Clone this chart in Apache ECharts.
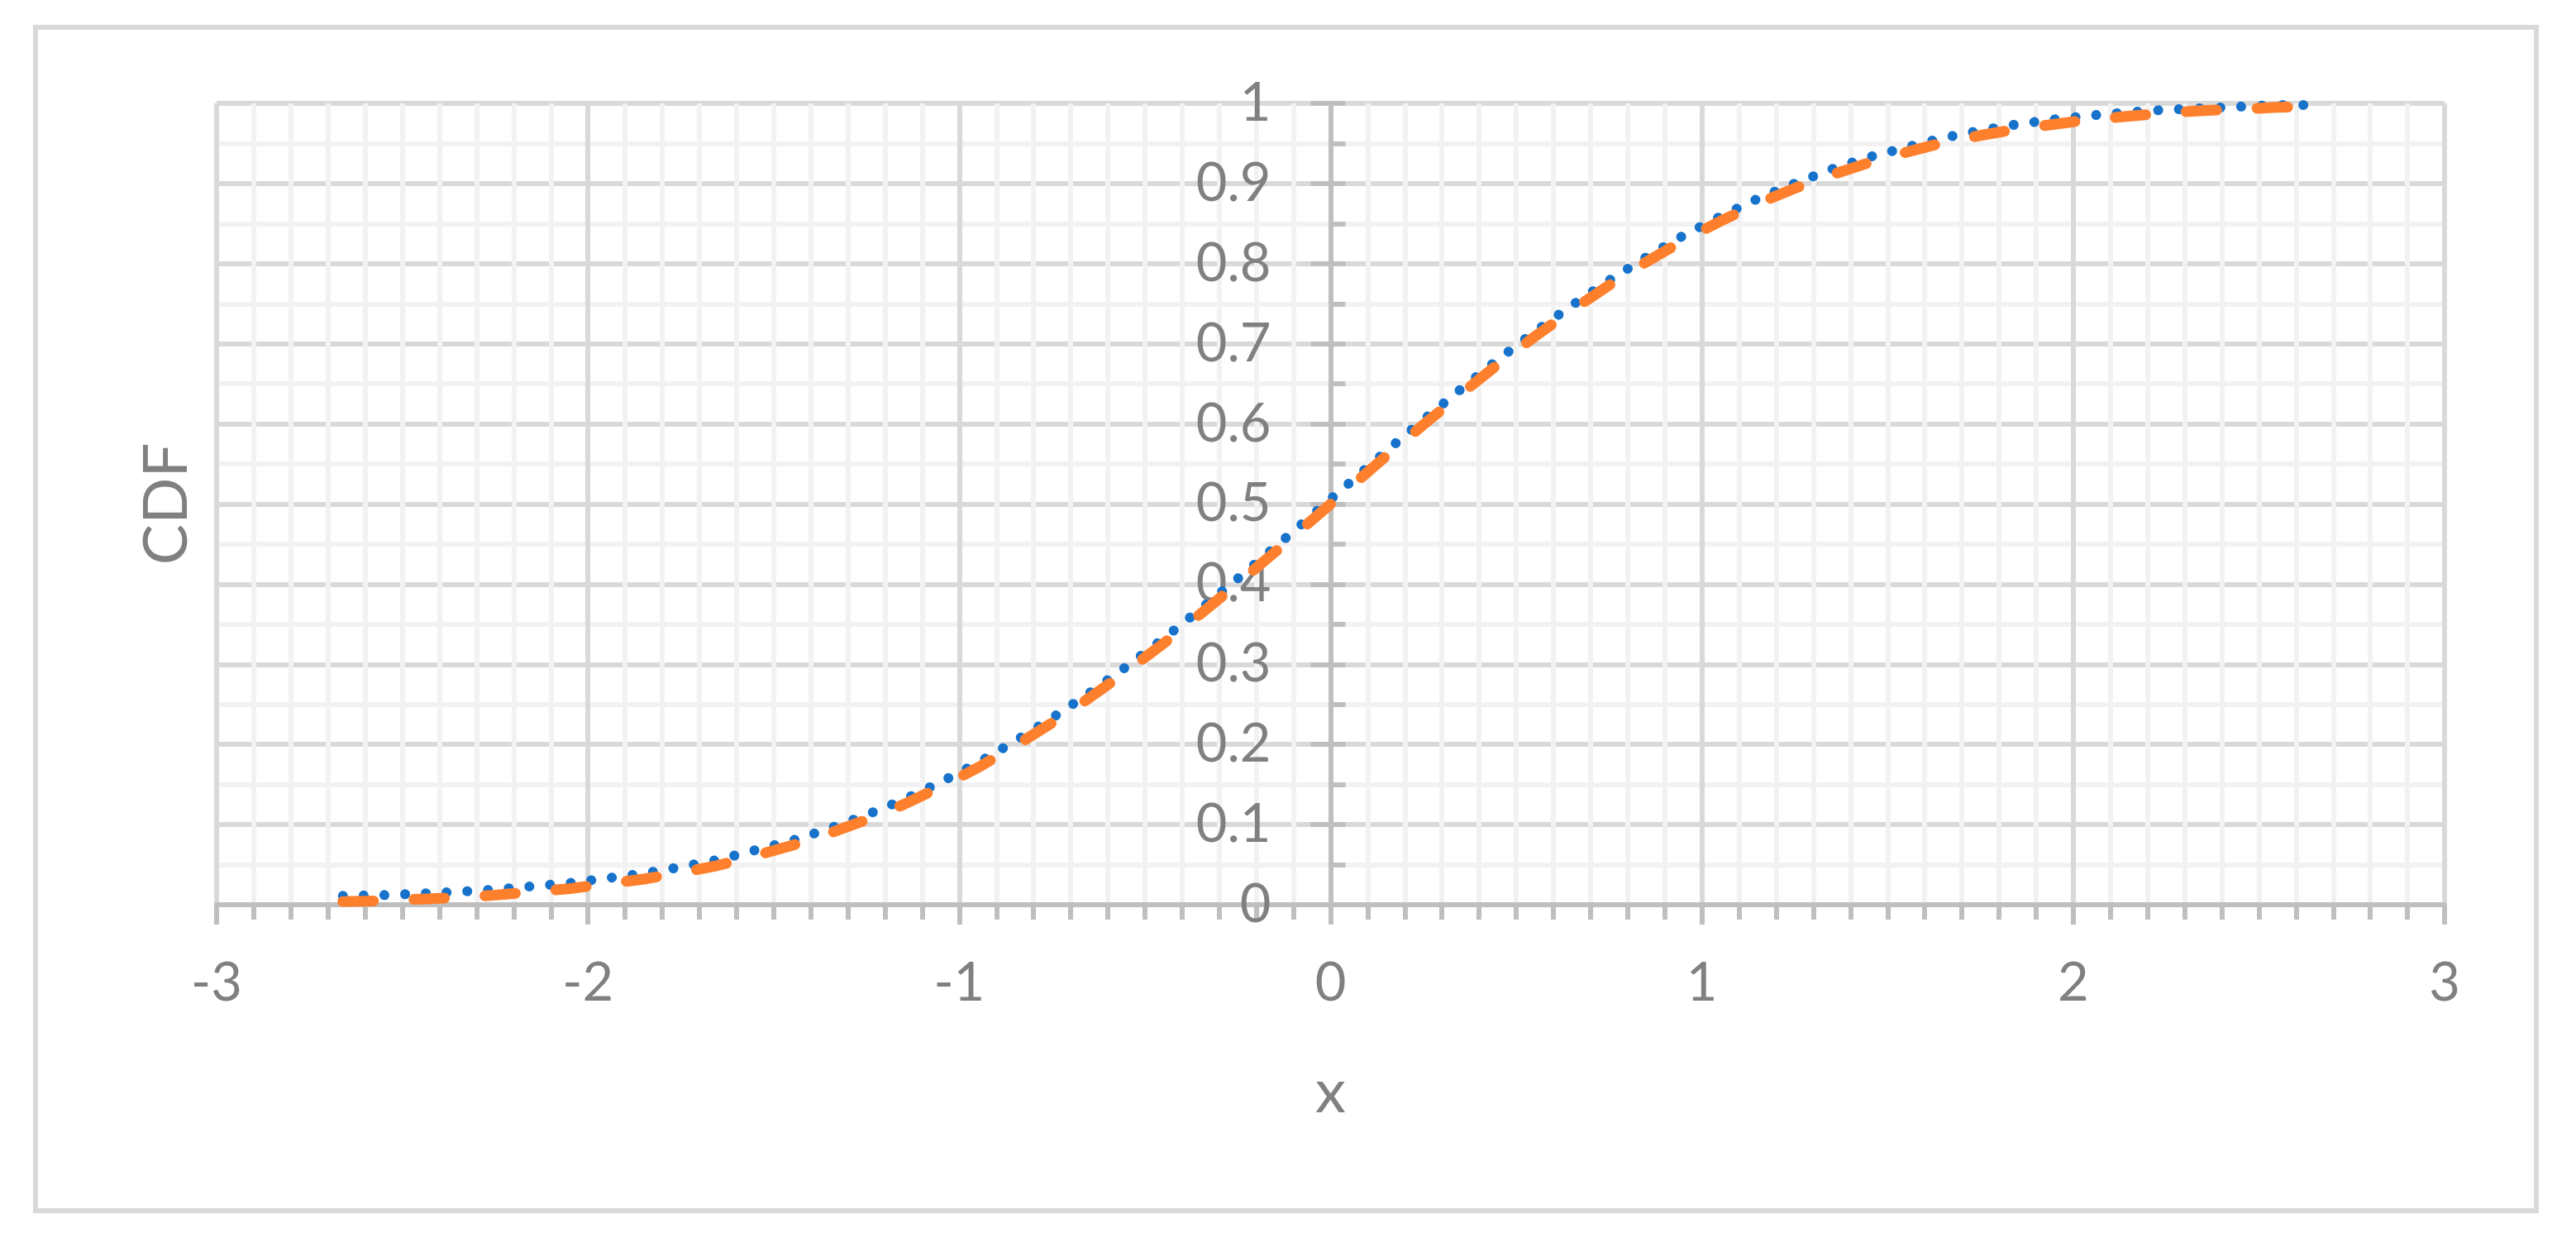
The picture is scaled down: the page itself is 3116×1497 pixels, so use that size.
<!DOCTYPE html>
<html>
<head>
<meta charset="utf-8">
<title>CDF</title>
<script src="https://cdn.jsdelivr.net/npm/echarts@6/dist/echarts.min.js"></script>
<style>
  html, body { margin: 0; padding: 0; background: #fff; }
  #main { width: 3116px; height: 1497px; }
</style>
</head>
<body>
<div id="main"></div>
<script>
// x positions of the plotted points
var xValues = [-2.66, -2.55, -2.45, -2.35, -2.25, -2.15, -2.05, -1.95, -1.85, -1.75,
  -1.65, -1.55, -1.45, -1.35, -1.25, -1.15, -1.05, -0.95, -0.85, -0.75,
  -0.65, -0.55, -0.45, -0.35, -0.25, -0.15, -0.05,
  0.05, 0.15, 0.25, 0.35, 0.45, 0.55, 0.65, 0.75, 0.85, 0.95,
  1.05, 1.15, 1.25, 1.35, 1.45, 1.55, 1.65, 1.75, 1.85, 1.95,
  2.05, 2.15, 2.25, 2.35, 2.45, 2.55, 2.66];

// blue dotted curve (sits a hair above the orange one)
var blueValues = [0.011, 0.012, 0.014, 0.016, 0.019, 0.023, 0.027, 0.033, 0.039, 0.047,
  0.056, 0.068, 0.080, 0.095, 0.112, 0.131, 0.153, 0.177, 0.204, 0.233,
  0.264, 0.297, 0.332, 0.369, 0.407, 0.446, 0.486,
  0.526, 0.566, 0.605, 0.643, 0.680, 0.715, 0.748, 0.779, 0.808, 0.835,
  0.859, 0.881, 0.900, 0.918, 0.933, 0.945, 0.957, 0.966, 0.974, 0.980,
  0.985, 0.989, 0.992, 0.994, 0.996, 0.998, 0.998];

// orange dashed curve
var orangeValues = [0.004, 0.005, 0.007, 0.009, 0.012, 0.016, 0.020, 0.026, 0.032, 0.040,
  0.049, 0.061, 0.074, 0.089, 0.106, 0.125, 0.147, 0.171, 0.198, 0.227,
  0.258, 0.291, 0.326, 0.363, 0.401, 0.440, 0.480,
  0.520, 0.560, 0.599, 0.637, 0.674, 0.709, 0.742, 0.773, 0.802, 0.829,
  0.853, 0.875, 0.894, 0.911, 0.926, 0.939, 0.951, 0.960, 0.968, 0.974,
  0.980, 0.984, 0.988, 0.991, 0.993, 0.995, 0.996];

var xTitle = 'x';
var yTitle = 'CDF';

function pairs(ys) {
  return xValues.map(function (x, i) { return [x, ys[i]]; });
}

var textColor = '#808080';
var fontFamily = 'Lato, "Open Sans", sans-serif';
var axisColor = '#bfbfbf';
var majorGrid = '#d9d9d9';
var minorGrid = '#f2f2f2';

var gridLeft = 262, gridRight = 159;
// the y axis sits on x = 0, i.e. half the plot width in from the left edge
var yShift = -(3116 - gridLeft - gridRight) / 2;

var chart = echarts.init(document.getElementById('main'), null, { renderer: 'canvas' });

var option = {
  backgroundColor: '#fff',
  animation: false,
  graphic: [{
    type: 'rect',
    shape: { x: 43, y: 33, width: 3025, height: 1431 },
    style: { fill: 'none', stroke: majorGrid, lineWidth: 6 },
    silent: true
  }],
  grid: { left: gridLeft, right: gridRight, top: 125, bottom: 403, containLabel: false, outerBoundsMode: 'none' },
  xAxis: {
    type: 'value',
    min: -3,
    max: 3,
    interval: 1,
    name: xTitle,
    nameLocation: 'middle',
    nameGap: 190,
    nameTextStyle: { color: textColor, fontSize: 74, fontFamily: fontFamily },
    axisLine: { onZero: false, lineStyle: { color: axisColor, width: 6 } },
    axisTick: { show: true, inside: false, length: 24, lineStyle: { color: axisColor, width: 6 } },
    minorTick: { show: true, splitNumber: 10, length: 18, lineStyle: { color: axisColor, width: 6 } },
    axisLabel: {
      color: textColor, fontSize: 65, fontFamily: fontFamily, margin: 63, lineHeight: 65,
      showMinLabel: true, showMaxLabel: true
    },
    splitLine: { show: true, lineStyle: { color: majorGrid, width: 6 } },
    minorSplitLine: { show: true, lineStyle: { color: minorGrid, width: 6 } }
  },
  yAxis: [{
    type: 'value',
    min: 0,
    max: 1,
    interval: 0.1,
    position: 'left',
    offset: yShift,
    name: yTitle,
    nameLocation: 'middle',
    nameGap: 1370,
    nameTextStyle: { color: textColor, fontSize: 74, fontFamily: fontFamily },
    axisLine: { show: true, onZero: false, lineStyle: { color: axisColor, width: 6 } },
    axisTick: { show: true, inside: true, length: 18, lineStyle: { color: axisColor, width: 6 } },
    minorTick: { show: true, splitNumber: 2, length: 18, lineStyle: { color: axisColor, width: 6 } },
    axisLabel: { color: textColor, fontSize: 65, fontFamily: fontFamily, margin: 72 },
    splitLine: { show: true, lineStyle: { color: majorGrid, width: 6 } },
    minorSplitLine: { show: true, lineStyle: { color: minorGrid, width: 6 } }
  }, {
    // second copy only for the outward half of the crossing major ticks
    type: 'value',
    min: 0,
    max: 1,
    interval: 0.1,
    position: 'left',
    offset: yShift,
    axisLine: { show: true, onZero: false, lineStyle: { color: axisColor, width: 6 } },
    axisTick: { show: true, inside: false, length: 24, lineStyle: { color: axisColor, width: 6 } },
    axisLabel: { show: false },
    splitLine: { show: false }
  }],
  series: [{
    name: 'blue',
    type: 'line',
    data: pairs(blueValues),
    showSymbol: false,
    z: 3,
    lineStyle: { color: '#1672CB', width: 12, type: [0.1, 25], cap: 'round' }
  }, {
    name: 'orange',
    type: 'line',
    data: pairs(orangeValues),
    showSymbol: false,
    z: 4,
    lineStyle: { color: '#FE7F2C', width: 13, type: [37, 49], cap: 'round' }
  }]
};

chart.setOption(option);
</script>
</body>
</html>
